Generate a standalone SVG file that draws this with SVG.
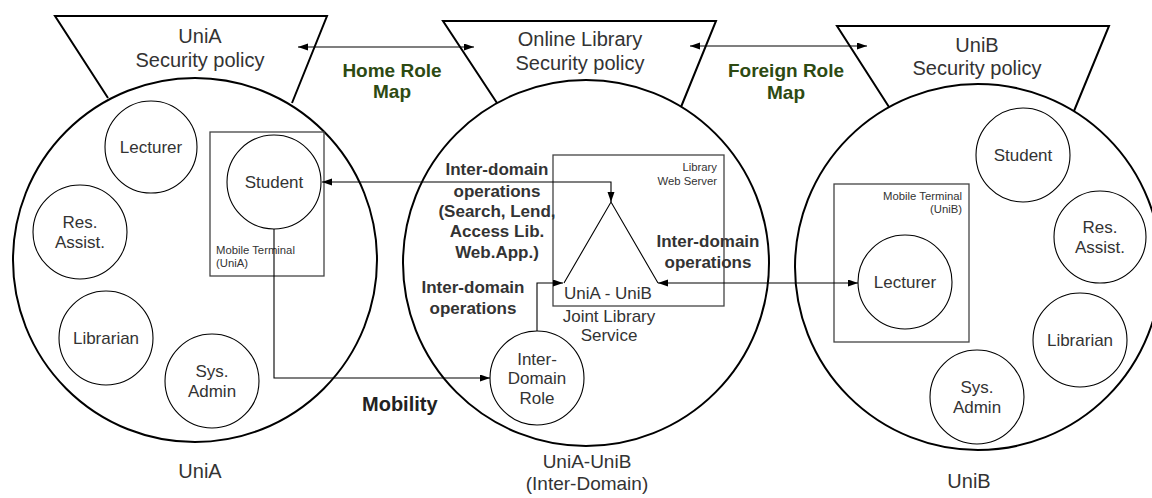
<svg xmlns="http://www.w3.org/2000/svg" width="1152" height="498" viewBox="0 0 1152 498">
  <style>
    .domain { fill: none; stroke: #000; stroke-width: 2; }
    .policy { fill: none; stroke: #000; stroke-width: 2; stroke-linejoin: miter; }
    .role { fill: #fff; stroke: #000; stroke-width: 1.1; }
    .box { fill: none; stroke: #444; stroke-width: 1.3; }
    .conn { fill: none; stroke: #000; stroke-width: 1.1; }
    text { font-family: "Liberation Sans", Arial, sans-serif; fill: #333; }
    .big { font-size: 20px; text-anchor: middle; }
    .caption { font-size: 19px; text-anchor: middle; }
    .node { font-size: 17px; text-anchor: middle; }
    .node-left { font-size: 17px; text-anchor: start; }
    .small { font-size: 11.3px; }
    .small-end { font-size: 11.3px; text-anchor: end; }
    .op { font-size: 17px; font-weight: bold; text-anchor: middle; }
    .map { font-size: 19px; font-weight: bold; text-anchor: middle; fill: #2d4a12; }
    .mob { font-size: 20px; font-weight: bold; fill: #222; }
  </style>
  <defs>
    <marker id="arrow" markerUnits="userSpaceOnUse" markerWidth="11" markerHeight="8" refX="10" refY="3.5" orient="auto-start-reverse">
      <path d="M0,0 L10,3.5 L0,7 z" fill="#000"/>
    </marker>
  </defs>

  <rect width="1152" height="498" fill="#fff"/>

  <!-- UniA domain -->
  <g id="unia">
    <path class="policy" d="M108,98 L55,16 L327,16 L292,103"/>
    <text class="big" x="200" y="43">UniA</text>
    <text class="big" x="200" y="67">Security policy</text>
    <circle class="domain" cx="195" cy="260" r="182"/>
    <text class="big" x="200" y="478">UniA</text>
  </g>
  <g id="unia-lecturer">
    <circle class="role" cx="151" cy="147" r="46"/>
    <text class="node" x="151" y="153">Lecturer</text>
  </g>
  <g id="unia-resassist">
    <circle class="role" cx="80" cy="232" r="47"/>
    <text class="node" x="80" y="228">Res.</text>
    <text class="node" x="80" y="248">Assist.</text>
  </g>
  <g id="unia-librarian">
    <circle class="role" cx="106" cy="338" r="47"/>
    <text class="node" x="106" y="344">Librarian</text>
  </g>
  <g id="unia-sysadmin">
    <circle class="role" cx="212" cy="381" r="47"/>
    <text class="node" x="212" y="377">Sys.</text>
    <text class="node" x="212" y="397">Admin</text>
  </g>
  <g id="unia-terminal">
    <rect class="box" x="210" y="132" width="114" height="144"/>
    <text class="small" x="216" y="254">Mobile Terminal</text>
    <text class="small" x="216" y="267">(UniA)</text>
  </g>
  <g id="unia-student">
    <circle class="role" cx="274" cy="182" r="47"/>
    <text class="node" x="274" y="188">Student</text>
  </g>

  <!-- Inter-domain -->
  <g id="interdomain">
    <path class="policy" d="M497,103 L443,21 L716,21 L681,107"/>
    <text class="big" x="580" y="46">Online Library</text>
    <text class="big" x="580" y="70">Security policy</text>
    <circle class="domain" cx="586" cy="263" r="183"/>
    <text class="caption" x="587" y="468">UniA-UniB</text>
    <text class="caption" x="587" y="490">(Inter-Domain)</text>
  </g>
  <g id="web-server">
    <rect class="box" x="553" y="155" width="171" height="151"/>
    <text class="small-end" x="717" y="171">Library</text>
    <text class="small-end" x="717" y="185">Web Server</text>
  </g>
  <g id="joint-service">
    <polyline class="conn" points="564,283 611,202 658,283"/>
    <text class="node-left" x="564" y="299">UniA - UniB</text>
    <text class="node" x="609" y="322">Joint Library</text>
    <text class="node" x="609" y="341">Service</text>
  </g>
  <g id="interdomain-role">
    <circle class="role" cx="537" cy="378" r="47"/>
    <text class="node" x="537" y="365">Inter-</text>
    <text class="node" x="537" y="384">Domain</text>
    <text class="node" x="537" y="404">Role</text>
  </g>

  <!-- UniB domain -->
  <g id="unib">
    <path class="policy" d="M889,107 L837,26 L1109,26 L1074,111"/>
    <text class="big" x="977" y="52">UniB</text>
    <text class="big" x="977" y="75">Security policy</text>
    <circle class="domain" cx="978" cy="267" r="183"/>
    <text class="big" x="969" y="488">UniB</text>
  </g>
  <g id="unib-student">
    <circle class="role" cx="1023" cy="155" r="47"/>
    <text class="node" x="1023" y="161">Student</text>
  </g>
  <g id="unib-resassist">
    <circle class="role" cx="1100" cy="237" r="46"/>
    <text class="node" x="1100" y="233">Res.</text>
    <text class="node" x="1100" y="253">Assist.</text>
  </g>
  <g id="unib-librarian">
    <circle class="role" cx="1080" cy="340" r="47"/>
    <text class="node" x="1080" y="346">Librarian</text>
  </g>
  <g id="unib-sysadmin">
    <circle class="role" cx="977" cy="397" r="47"/>
    <text class="node" x="977" y="393">Sys.</text>
    <text class="node" x="977" y="413">Admin</text>
  </g>
  <g id="unib-terminal">
    <rect class="box" x="834" y="184" width="135" height="158"/>
    <text class="small-end" x="962" y="200">Mobile Terminal</text>
    <text class="small-end" x="962" y="213">(UniB)</text>
  </g>
  <g id="unib-lecturer">
    <circle class="role" cx="905" cy="282" r="47"/>
    <text class="node" x="905" y="288">Lecturer</text>
  </g>

  <!-- connectors -->
  <g id="connectors">
    <path class="conn" d="M298,47 H474" marker-start="url(#arrow)" marker-end="url(#arrow)"/>
    <path class="conn" d="M690,46 H867" marker-start="url(#arrow)" marker-end="url(#arrow)"/>
    <path class="conn" d="M322,182 H611 V202" marker-start="url(#arrow)" marker-end="url(#arrow)"/>
    <path class="conn" d="M274,229 V378 H490" marker-end="url(#arrow)"/>
    <path class="conn" d="M537,331 V283 H563" marker-end="url(#arrow)"/>
    <path class="conn" d="M658,283 H858" marker-start="url(#arrow)" marker-end="url(#arrow)"/>
  </g>

  <!-- connector labels -->
  <g id="labels">
    <text class="map" x="392" y="77">Home Role</text>
    <text class="map" x="392" y="98">Map</text>
    <text class="map" x="786" y="77">Foreign Role</text>
    <text class="map" x="786" y="99">Map</text>
    <text class="op" x="497" y="175">Inter-domain</text>
    <text class="op" x="497" y="197">operations</text>
    <text class="op" x="497" y="217">(Search, Lend,</text>
    <text class="op" x="497" y="237">Access Lib.</text>
    <text class="op" x="497" y="258">Web.App.)</text>
    <text class="op" x="473" y="293">Inter-domain</text>
    <text class="op" x="473" y="314">operations</text>
    <text class="op" x="708" y="247">Inter-domain</text>
    <text class="op" x="708" y="268">operations</text>
    <text class="mob" x="362" y="411">Mobility</text>
  </g>
</svg>
